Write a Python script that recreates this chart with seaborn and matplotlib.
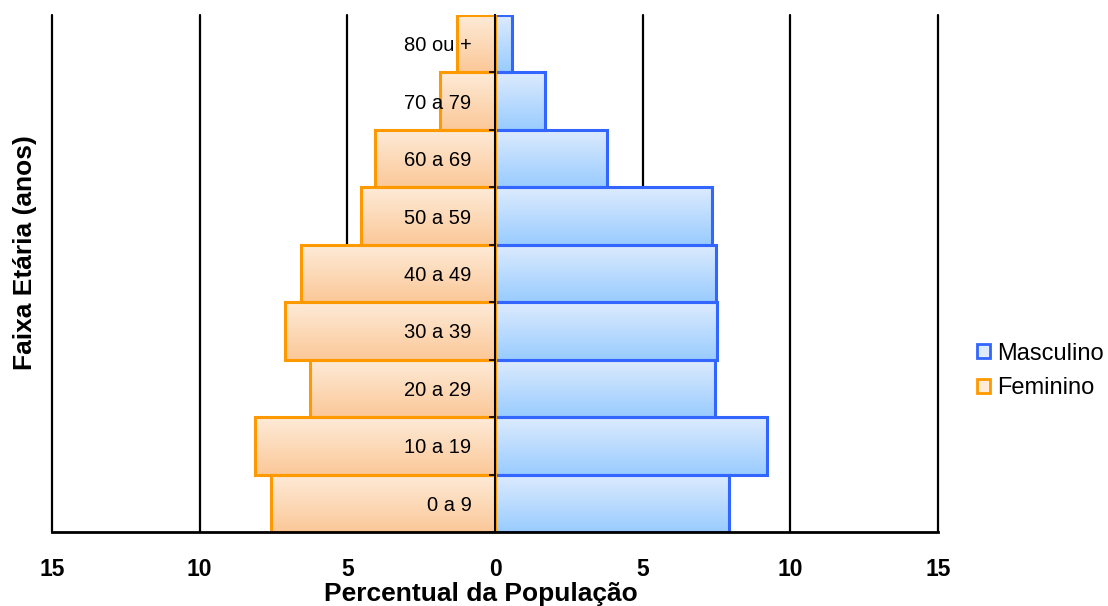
import numpy as np
import pandas as pd
import matplotlib
matplotlib.use("Agg")
import matplotlib.pyplot as plt
from matplotlib.patches import Patch
from matplotlib.ticker import FixedLocator, FuncFormatter
import seaborn as sns

# Age groups, top of the pyramid first
faixas = ["80 ou +", "70 a 79", "60 a 69", "50 a 59", "40 a 49",
          "30 a 39", "20 a 29", "10 a 19", "0 a 9"]
masculino = [0.56, 1.69, 3.78, 7.34, 7.48, 7.50, 7.44, 9.21, 7.92]
feminino = [1.27, 1.87, 4.07, 4.55, 6.58, 7.12, 6.25, 8.12, 7.59]
sexos = ["Masculino", "Feminino"]
x_ticks = [-15, -10, -5, 0, 5, 10, 15]

edge_colors = {"Masculino": "#3366FF", "Feminino": "#FF9900"}
grad_colors = {"Masculino": ("#DDEBFD", "#99CCFF"),
               "Feminino": ("#FEEBD8", "#FBC898")}

df = pd.DataFrame({
    "faixa": faixas * 2,
    "sexo": ["Masculino"] * len(faixas) + ["Feminino"] * len(faixas),
    "valor": masculino + [-v for v in feminino],
})

sns.set_style("white")
plt.rcParams["font.family"] = ["Liberation Sans", "DejaVu Sans"]
plt.rcParams.update({"text.color": "black", "axes.labelcolor": "black",
                     "xtick.color": "black", "ytick.color": "black"})

fig = plt.figure(figsize=(11.08, 6.06), dpi=100)
ax = fig.add_axes([52 / 1108, 74 / 606, 886 / 1108, 517 / 606])

sns.barplot(data=df, x="valor", y="faixa", hue="sexo", order=faixas,
            hue_order=sexos, palette=edge_colors, orient="h", dodge=False,
            width=1.0, legend=False, ax=ax)

# Outline bars and fill them with a vertical gradient clipped to each bar
for bar in list(ax.patches):
    x0, y0, w, h = bar.get_x(), bar.get_y(), bar.get_width(), bar.get_height()
    sexo = "Feminino" if w < 0 else "Masculino"
    light, dark = grad_colors[sexo]
    c0 = np.array(matplotlib.colors.to_rgb(light))
    c1 = np.array(matplotlib.colors.to_rgb(dark))
    t = np.linspace(0, 1, 64)[:, None, None]
    img = c0 * (1 - t) + c1 * t
    img = np.repeat(img, 2, axis=1)
    xa, xb = sorted([x0, x0 + w])
    ya, yb = sorted([y0, y0 + h])
    bar.set_facecolor("none")
    bar.set_edgecolor(edge_colors[sexo])
    bar.set_linewidth(2.2)
    bar.set_zorder(2)
    im = ax.imshow(img, extent=[xa, xb, yb, ya], origin="upper",
                   aspect="auto", zorder=1.5, interpolation="bilinear")
    im.set_clip_path(bar)

ax.set_xlim(-15, 15)
ax.set_ylim(len(faixas) - 0.5, -0.5)

# Vertical grid lines behind the bars
ax.xaxis.set_major_locator(FixedLocator(x_ticks))
ax.xaxis.set_major_formatter(FuncFormatter(lambda v, p: f"{abs(v):g}"))
ax.grid(axis="x", color="black", linewidth=1.6)
ax.grid(axis="y", visible=False)
ax.xaxis.set_zorder(0.5)
for gl in ax.get_xgridlines():
    gl.set_clip_on(False)
ax.tick_params(axis="x", which="major", direction="out", length=5,
               width=1.6, color="black", pad=14, labelsize=16.5)
for lbl in ax.get_xticklabels():
    lbl.set_fontweight("bold")

# Category axis sits at zero, labels drawn over the bars
ax.spines["left"].set_position(("data", 0))
ax.spines["left"].set_linewidth(1.4)
ax.spines["left"].set_color("black")
ax.spines["left"].set_zorder(4)
ax.spines["bottom"].set_linewidth(2.0)
ax.spines["bottom"].set_color("black")
ax.spines["top"].set_visible(False)
ax.spines["right"].set_visible(False)
ax.yaxis.set_zorder(5)
ax.yaxis.set_minor_locator(FixedLocator(np.arange(0.5, len(faixas), 1.0)))
ax.tick_params(axis="y", which="major", length=0, pad=17, labelsize=14.5)
ax.tick_params(axis="y", which="minor", direction="out", length=4,
               width=1.2, color="black", left=True)

ax.set_xlabel("Percentual da População", fontsize=19, fontweight="bold")
ax.set_ylabel("Faixa Etária (anos)", fontsize=19, fontweight="bold")
ax.xaxis.set_label_coords((481 - 52) / 886, (532 - 582) / 517)
ax.yaxis.set_label_coords((25 - 52) / 886, (532 - 253) / 517)
ax.yaxis.label.set_verticalalignment("center")

handles = [Patch(facecolor=grad_colors[s][0], edgecolor=edge_colors[s],
                 linewidth=2.0, label=s) for s in sexos]
fig.legend(handles=handles, loc="center left",
           bbox_to_anchor=(968 / 1108, 1 - 371 / 606), frameon=False,
           fontsize=17, handlelength=0.55, handleheight=0.55,
           handletextpad=0.3, labelspacing=0.55, borderaxespad=0)

fig.savefig("out.png", dpi=100)
